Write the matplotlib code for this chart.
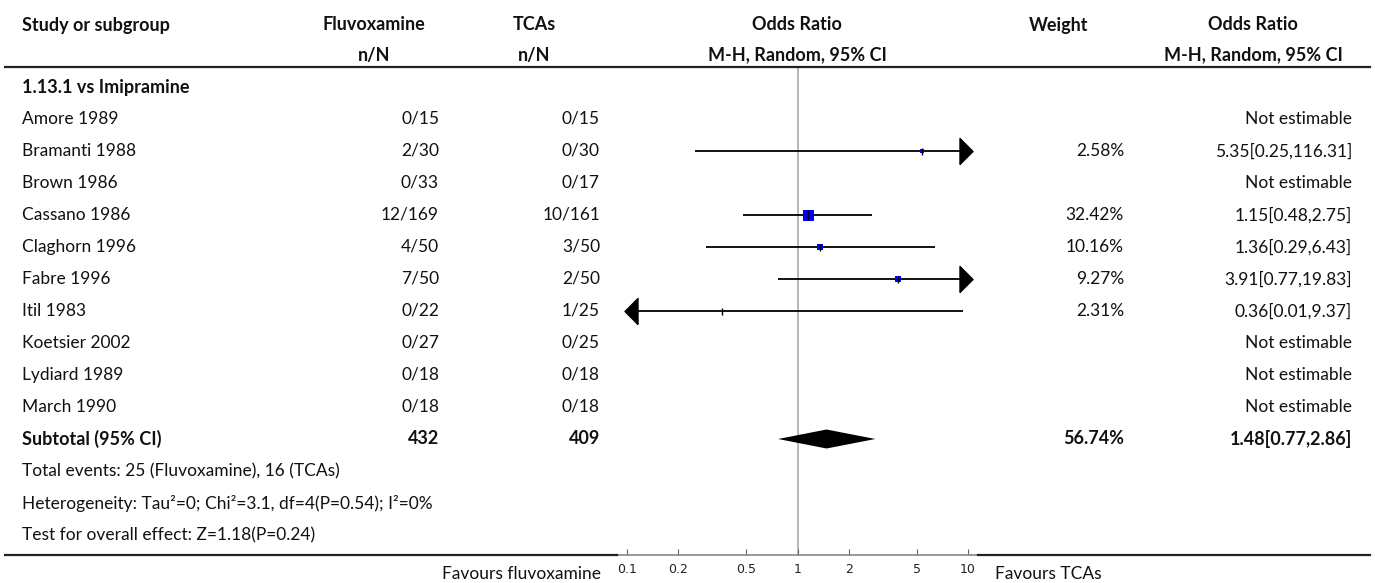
import matplotlib
matplotlib.use("Agg")
import matplotlib.pyplot as plt
from matplotlib.lines import Line2D
from matplotlib.transforms import ScaledTranslation
import numpy as np

# ---------------- data ----------------
group_title = "1.13.1 vs Imipramine"
studies = ["Amore 1989", "Bramanti 1988", "Brown 1986", "Cassano 1986", "Claghorn 1996",
           "Fabre 1996", "Itil 1983", "Koetsier 2002", "Lydiard 1989", "March 1990"]
flu_n = [0, 2, 0, 12, 4, 7, 0, 0, 0, 0]
flu_N = [15, 30, 33, 169, 50, 50, 22, 27, 18, 18]
tca_n = [0, 0, 0, 10, 3, 2, 1, 0, 0, 0]
tca_N = [15, 30, 17, 161, 50, 50, 25, 25, 18, 18]
weights = [None, 2.58, None, 32.42, 10.16, 9.27, 2.31, None, None, None]
or_est = [None, 5.35, None, 1.15, 1.36, 3.91, 0.36, None, None, None]
ci_lo = [None, 0.25, None, 0.48, 0.29, 0.77, 0.01, None, None, None]
ci_hi = [None, 116.31, None, 2.75, 6.43, 19.83, 9.37, None, None, None]

sub_flu_N = 432
sub_tca_N = 409
sub_weight = 56.74
sub_or, sub_lo, sub_hi = 1.48, 0.77, 2.86
footer_lines = ["Total events: 25 (Fluvoxamine), 16 (TCAs)",
                "Heterogeneity: Tau\u00b2=0; Chi\u00b2=3.1, df=4(P=0.54); I\u00b2=0%",
                "Test for overall effect: Z=1.18(P=0.24)"]
xticks = [0.1, 0.2, 0.5, 1, 2, 5, 10]
xtick_labels = ["0.1", "0.2", "0.5", "1", "2", "5", "10"]
plot_min, plot_max = 0.1, 10
fav_left = "Favours fluvoxamine"
fav_right = "Favours TCAs"

# ---------------- layout ----------------
W, H = 1375, 583
FONT = "Lato"
FS = 12.5
FSB = 13
fig = plt.figure(figsize=(W / 100, H / 100), dpi=100)

def fx(x):
    return x / W

def fy(y):
    return 1 - y / H

ROW0 = 87
DY = 32
def rowy(i):
    return ROW0 + DY * i

def txt(x, y, s, ha="left", bold=False, color="#111111", family=FONT):
    fig.text(fx(x), fy(y), s, ha=ha, va="center", fontsize=FSB if bold else FS,
             fontweight="bold" if bold else "normal", color=color, family=family)

# column anchors
X_STUDY = 22
X_FLU_H, X_FLU_D = 374, 439
X_TCA_H, X_TCA_D = 534, 600
X_OR_H = 797
X_W_H, X_W_D = 1059, 1124
X_OR2_H, X_OR2_D = 1253, 1352

txt(X_STUDY, 25, "Study or subgroup", bold=True)
txt(X_FLU_H, 25, "Fluvoxamine", ha="center", bold=True)
txt(X_FLU_H, 55, "n/N", ha="center", bold=True)
txt(X_TCA_H, 25, "TCAs", ha="center", bold=True)
txt(X_TCA_H, 55, "n/N", ha="center", bold=True)
txt(X_OR_H, 25, "Odds Ratio", ha="center", bold=True)
txt(X_OR_H, 55, "M-H, Random, 95% CI", ha="center", bold=True)
txt(X_W_H, 25, "Weight", ha="center", bold=True)
txt(X_OR2_H, 25, "Odds Ratio", ha="center", bold=True)
txt(X_OR2_H, 55, "M-H, Random, 95% CI", ha="center", bold=True)

fig.add_artist(Line2D([fx(5), fx(1370)], [fy(67), fy(67)], color="#222222", lw=1.6))

# rows
txt(X_STUDY, rowy(0), group_title, bold=True)
for i, s in enumerate(studies):
    y = rowy(i + 1)
    txt(X_STUDY, y, s)
    txt(X_FLU_D, y, f"{flu_n[i]}/{flu_N[i]}", ha="right")
    txt(X_TCA_D, y, f"{tca_n[i]}/{tca_N[i]}", ha="right")
    if weights[i] is None:
        txt(X_OR2_D, y, "Not estimable", ha="right")
    else:
        txt(X_W_D, y, f"{weights[i]:.2f}%", ha="right")
        txt(X_OR2_D, y, f"{or_est[i]:.2f}[{ci_lo[i]:.2f},{ci_hi[i]:.2f}]", ha="right")

ys = rowy(len(studies) + 1)
txt(X_STUDY, ys, "Subtotal (95% CI)", bold=True)
txt(X_FLU_D, ys, f"{sub_flu_N}", ha="right", bold=True)
txt(X_TCA_D, ys, f"{sub_tca_N}", ha="right", bold=True)
txt(X_W_D, ys, f"{sub_weight:.2f}%", ha="right", bold=True)
txt(X_OR2_D, ys, f"{sub_or:.2f}[{sub_lo:.2f},{sub_hi:.2f}]", ha="right", bold=True)
for k, line in enumerate(footer_lines):
    txt(X_STUDY, rowy(len(studies) + 2 + k), line)

# ---------------- forest axes ----------------
AX_L, AX_R = 617, 978
AX_T, AX_B = 67, 555
PX_DEC = (968 - 627) / 2.0
ax = fig.add_axes([fx(AX_L), fy(AX_B), (AX_R - AX_L) / W, (AX_B - AX_T) / H])
ax.set_xscale("log")
ax.set_xlim(10 ** (np.log10(plot_min) - (627 - AX_L) / PX_DEC),
            10 ** (np.log10(plot_max) + (AX_R - 968) / PX_DEC))
ax.set_ylim((AX_B - ROW0) / DY, (AX_T - ROW0) / DY)
ax.patch.set_alpha(0)
for sp in ["top", "left", "right"]:
    ax.spines[sp].set_visible(False)
ax.spines["bottom"].set_color("#888888")
ax.spines["bottom"].set_linewidth(1.2)
ax.set_yticks([])
ax.set_xticks(xticks)
ax.set_xticklabels(xtick_labels)
ax.minorticks_off()
ax.tick_params(axis="x", direction="in", length=4, width=0.8, color="#666666",
               labelsize=9, labelcolor="#222222", pad=6)
for lab in ax.get_xticklabels():
    lab.set_family("DejaVu Sans")

ax.axvline(1, color="#aaaaaa", lw=1.2, zorder=0)

tri_r = [(-0.5, -1), (0.5, 0), (-0.5, 1), (-0.5, -1)]
tri_l = [(0.5, -1), (-0.5, 0), (0.5, 1), (0.5, -1)]
tr_right = ax.transData + ScaledTranslation(-2.5 / 100, 0, fig.dpi_scale_trans)
tr_left = ax.transData + ScaledTranslation(3.5 / 100, 0, fig.dpi_scale_trans)
ARROW_MS = 26 * 0.72

for i in range(len(studies)):
    if or_est[i] is None:
        continue
    y = i + 1
    lo = max(ci_lo[i], plot_min)
    hi = min(ci_hi[i], plot_max)
    ax.plot([lo, hi], [y, y], color="black", lw=1.3, zorder=2, solid_capstyle="butt")
    if ci_hi[i] > plot_max:
        ax.plot([plot_max], [y], marker=tri_r, markersize=ARROW_MS, color="black",
                transform=tr_right, zorder=3, clip_on=False)
    if ci_lo[i] < plot_min:
        ax.plot([plot_min], [y], marker=tri_l, markersize=ARROW_MS, color="black",
                transform=tr_left, zorder=3, clip_on=False)
    side_px = max(2.5, 11 * np.sqrt(weights[i] / 32.42))
    ax.plot([or_est[i]], [y], marker="s", markersize=side_px * 0.72, color="#0000ff",
            markeredgewidth=0, zorder=4)
    tick_px = 10 if weights[i] > 20 else 7
    ax.plot([or_est[i]], [y], marker="|", markersize=tick_px * 0.72, color="black",
            markeredgewidth=1.0, zorder=5)

ysub = len(studies) + 1
hh = 9.5 / DY
ax.fill([sub_lo, sub_or, sub_hi, sub_or], [ysub, ysub - hh, ysub, ysub + hh],
        color="black", zorder=4, lw=0)

# bottom rule outside the axis
fig.add_artist(Line2D([fx(5), fx(AX_L)], [fy(AX_B), fy(AX_B)], color="#222222", lw=1.6))
fig.add_artist(Line2D([fx(AX_R), fx(1370)], [fy(AX_B), fy(AX_B)], color="#222222", lw=1.6))

txt(601, 574, fav_left, ha="right")
txt(995, 574, fav_right, ha="left")

fig.savefig("out.png", dpi=100)
